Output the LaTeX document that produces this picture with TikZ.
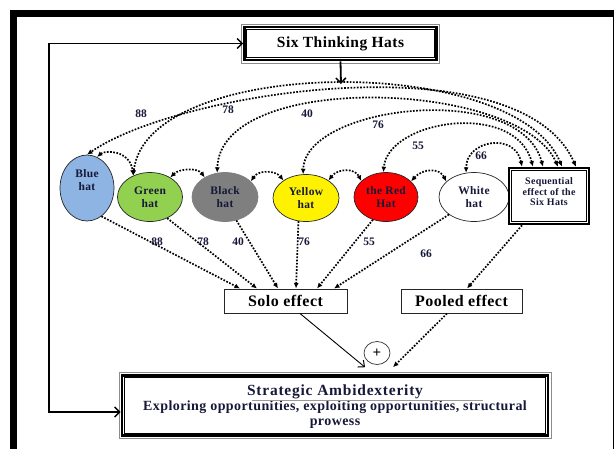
\documentclass[tikz,border=0pt]{standalone}
\usepackage{fontspec}
\setmainfont{Liberation Serif}
\newfontfamily\lsfont[LetterSpace=3]{Liberation Serif}
\newfontfamily\lswide[LetterSpace=5]{Liberation Serif}
\usetikzlibrary{arrows.meta,shapes.geometric}
\definecolor{navy}{RGB}{22,24,56}
\definecolor{hatblue}{RGB}{141,180,226}
\definecolor{hatgreen}{RGB}{146,208,80}
\definecolor{hatgray}{RGB}{127,127,127}
\tikzset{
  dotline/.style={line width=1.7pt, dash pattern=on 1.7pt off 1.5pt},
  dtip/.style={-{Latex[length=5.5pt,width=5pt]}},
  ddtip/.style={{Latex[length=5.5pt,width=5pt]}-{Latex[length=5.5pt,width=5pt]}},
  barb/.style={-{Straight Barb[length=5pt,width=10pt,line width=1.5pt]}},
  dbarb/.style={{Straight Barb[length=5pt,width=10pt,line width=1.5pt]}-{Straight Barb[length=5pt,width=10pt,line width=1.5pt]}},
  hat/.style={ellipse, draw=black!85, line width=0.7pt, inner sep=0pt, align=center, text=navy,
    font={\lsfont\bfseries\fontsize{11.5}{12.5}\selectfont}},
  hattext/.style={inner sep=0pt, align=center, text=navy, font={\lsfont\bfseries\fontsize{11.5}{13.5}\selectfont}},
  num/.style={inner sep=0pt, text=navy, font={\bfseries\fontsize{11.5}{12}\selectfont}},
  effbox/.style={rectangle, draw=black!85, line width=1pt, inner sep=0pt, text=black,
    font={\lsfont\bfseries\fontsize{16}{18}\selectfont}},
  heavybox/.style={rectangle, draw=black, line width=2.6pt, inner sep=0pt, align=center},
}
\begin{document}
\begin{tikzpicture}[x=1pt,y=-1pt]
\useasboundingbox (0,0) rectangle (616,448);
% outer frame
\draw[line width=7pt] (13.5,460) -- (13.5,13.5) -- (614,13.5);
\draw[line width=1pt] (613.5,17) -- (613.5,460);

% title box
\node[heavybox, minimum width=192, minimum height=33, text=black,
  font={\lsfont\bfseries\fontsize{15.5}{18}\selectfont}] (six) at (340.5,43.5) {Six Thinking Hats};
\draw[line width=0.8pt] ([shift={(3.5,3.5)}]six.north west) rectangle ([shift={(-3.5,-3.5)}]six.south east);
\draw[black!45, line width=0.5pt] ([shift={(-1.8,-1.8)}]six.north west) rectangle ([shift={(1.8,1.8)}]six.south east);

% hats
\node[hat, fill=hatblue, minimum width=54, minimum height=66] (blue) at (87,188) {};
\node[hattext] (bluet) at (87,180) {Blue\\hat};
\node[hat, fill=hatgreen, minimum width=65, minimum height=49] (green) at (150,197) {Green\\hat};
\node[hat, fill=hatgray, draw=hatgray, minimum width=66, minimum height=49] (black) at (225,197) {Black\\hat};
\node[hat, fill=yellow, minimum width=66, minimum height=47] (yellow) at (306,198) {Yellow\\hat};
\node[hat, fill=red, minimum width=64, minimum height=49] (red) at (386,197) {the Red\\Hat};
\node[hat, fill=white, minimum width=70, minimum height=49] (white) at (474,197) {White\\hat};

% sequential box
\node[heavybox, minimum width=80, minimum height=56] (seq) at (549,196) {};
\draw[line width=0.8pt] ([shift={(3.5,3.5)}]seq.north west) rectangle ([shift={(-3.5,-3.5)}]seq.south east);
\node[inner sep=0pt, align=center, text=navy, font={\lsfont\bfseries\fontsize{10}{10.5}\selectfont}] (seqt) at (549,192) {Sequential\\effect of the\\Six Hats};

% effect boxes
\node[effbox, minimum width=123, minimum height=24] (solo) at (285.5,301) {Solo effect};
\node[effbox, minimum width=121, minimum height=24] (pooled) at (461.5,301) {Pooled effect};

% plus
\node[ellipse, draw=black!80, line width=0.7pt, minimum width=26, minimum height=23, inner sep=0pt,
  font={\bfseries\fontsize{15}{15}\selectfont}] (plus) at (377,353) {+};

% strategic box
\node[heavybox, minimum width=426, minimum height=60, text=navy] (strat) at (335,405.5) {};
\draw[line width=0.8pt] ([shift={(3.5,3.5)}]strat.north west) rectangle ([shift={(-3.5,-3.5)}]strat.south east);
\draw[black!45, line width=0.5pt] ([shift={(-1.8,-1.8)}]strat.north west) rectangle ([shift={(1.8,1.8)}]strat.south east);
\node[inner sep=0pt, align=center, text=navy, font={\lsfont\bfseries\fontsize{14}{15}\selectfont}] (stratt) at (335,407)
  {{\lswide\fontsize{15.5}{15}\selectfont Strategic Ambidexterity}\\Exploring opportunities, exploiting opportunities, structural\\prowess};
\draw[black!40, line width=0.6pt] (252,400.5) -- (483,400.5);

% loop connector
\coordinate (cl) at (49,412);
\coordinate (cu) at (49,43.5);
\draw[dbarb, line width=1.8pt] ([yshift=-6.5pt]strat.west) -- (cl) -- (cu) -- (six.west);

% top arrow
\coordinate (top) at (341,84);
\draw[barb, line width=1.8pt] (six.south) -- (top);

% big arcs
\draw[dotline, ddtip] ([xshift=27pt]seq.north) .. controls (520,40) and (180,90) .. (blue.north);
\draw[dotline, ddtip] ([xshift=13pt]seq.north) .. controls (515,52) and (146,56) .. (green.128);
\draw[dotline, ddtip] ([xshift=9pt]seq.north) .. controls (520,80) and (220,70) .. (black.108);
\draw[dotline, ddtip] ([xshift=-6pt]seq.north) .. controls (520,80) and (305,105) .. (yellow.97);
\draw[dotline, ddtip] ([xshift=-16pt]seq.north) .. controls (515,100) and (388,120) .. (red.96);
\draw[dotline, ddtip] ([xshift=-27pt]seq.north) .. controls (515,132) and (466,140) .. (white.108);

% short arcs between neighbours
\draw[dotline, ddtip] (blue.72) .. controls (105,150) and (130,150) .. (green.128);
\draw[dotline, ddtip] (green.44) .. controls (180,168) and (198,168) .. (black.136);
\draw[dotline, ddtip] (black.31) .. controls (258,170) and (275,170) .. (yellow.142);
\draw[dotline, ddtip] (yellow.38) .. controls (338,168) and (355,168) .. (red.147);
\draw[dotline, ddtip] (red.32) .. controls (423,168) and (440,168) .. (white.151);

% arc labels
\node[num] (a88) at (141,114) {88};
\node[num] (a78) at (228,110) {78};
\node[num] (a40) at (307,114) {40};
\node[num] (a76) at (378,125) {76};
\node[num] (a55) at (418,146) {55};
\node[num] (a66) at (481,156) {66};

% lines to solo effect
\draw[dotline, dtip] (blue.-63) -- ([xshift=-45.5pt]solo.north);
\draw[dotline, dtip] (green.-51) -- ([xshift=-28.5pt]solo.north);
\draw[dotline, dtip] (black.-64) -- ([xshift=-7.5pt]solo.north);
\draw[dotline, dtip] (yellow.-108) -- ([xshift=10.5pt]solo.north);
\draw[dotline, dtip] (red.-120) -- ([xshift=31.5pt]solo.north);
\draw[dotline, dtip] (white.-145) -- ([xshift=48.5pt]solo.north);
\draw[dotline, dtip] ([xshift=-27pt]seq.south) -- ([xshift=5.5pt]pooled.north);

% lower labels
\node[num] (b88) at (157,242) {88};
\node[num] (b78) at (203,242) {78};
\node[num] (b40) at (238,242) {40};
\node[num] (b76) at (304,242) {76};
\node[num] (b55) at (369,242) {55};
\node[num] (b66) at (426,254) {66};

% to strategic
\draw[line width=0.9pt, -{Straight Barb[length=5pt,width=9pt,line width=1pt]}] ([xshift=14.5pt]solo.south) -- ([xshift=30pt,yshift=7pt]strat.north);
\draw[dotline, dtip] ([xshift=-14.5pt]pooled.south) -- ([xshift=58pt,yshift=7pt]strat.north);
\end{tikzpicture}
\end{document}
